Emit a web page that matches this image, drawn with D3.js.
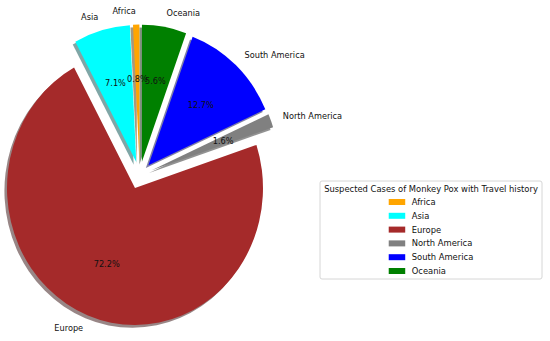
<!DOCTYPE html>
<html>
<head>
<meta charset="utf-8">
<script src="https://cdn.jsdelivr.net/npm/d3@7"></script>
<style>
  body { margin: 0; background: #fff; }
  svg { display: block; font-family: "DejaVu Sans", sans-serif; }
</style>
</head>
<body>
<svg id="chart" width="550" height="341"></svg>
<script>
// data
const regions = ['Africa', 'Asia', 'Europe', 'North America', 'South America', 'Oceania'];
const shares = [0.8, 7.1, 72.2, 1.6, 12.7, 5.6];
const colours = ['#ffa500', '#00ffff', '#a52a2a', '#808080', '#0000ff', '#008000'];
const legendTitle = 'Suspected Cases of Monkey Pox with Travel history';

const svg = d3.select('#chart');

// pie sits in data coords [-1,1]; picture is a bit taller than wide
const cx = 139.7, cy = 175.3, rx = 128, ry = 137;
const x = d3.scaleLinear().domain([-1, 1]).range([cx - rx, cx + rx]);
const y = d3.scaleLinear().domain([-1, 1]).range([cy + ry, cy - ry]);

const explode = 0.1;
const labelDist = 1.1;
const pctDist = 0.6;
const fs = 8.2;

// counterclockwise from 12 o'clock like matplotlib startangle=90
const pie = d3.pie().sort(null).startAngle(0).endAngle(-2 * Math.PI);
const arcs = pie(shares);
const arc = d3.arc().innerRadius(0).outerRadius(1);

const mid = d => (d.startAngle + d.endAngle) / 2;
// unit vector in data coords (y up)
const ux = d => Math.sin(mid(d));
const uy = d => Math.cos(mid(d));

const dx = x(-0.02) - x(0), dy = y(-0.02) - y(0);

// shadows first
svg.append('g').selectAll('path.shadow')
    .data(arcs)
    .join('path')
    .attr('class', 'shadow')
    .attr('d', arc)
    .attr('transform', d => `translate(${x(explode * ux(d)) + dx},${y(explode * uy(d)) + dy}) scale(${rx},${ry})`)
    .attr('fill', (d, i) => {
        const c = d3.rgb(colours[i]);
        return d3.rgb(c.r * .3, c.g * .3, c.b * .3);
    })
    .attr('opacity', 0.5);

svg.append('g').selectAll('path.wedge')
    .data(arcs)
    .join('path')
    .attr('class', 'wedge')
    .attr('d', arc)
    .attr('transform', d => `translate(${x(explode * ux(d))},${y(explode * uy(d))}) scale(${rx},${ry})`)
    .attr('fill', (d, i) => colours[i]);

// region labels
svg.append('g').selectAll('text')
    .data(arcs)
    .join('text')
    .attr('x', d => x((explode + labelDist) * ux(d)))
    .attr('y', d => y((explode + labelDist) * uy(d)))
    .attr('text-anchor', d => ux(d) > 0 ? 'start' : 'end')
    .attr('dominant-baseline', 'central')
    .attr('font-size', fs)
    .attr('fill', '#111')
    .text((d, i) => regions[i]);

// percentages
svg.append('g').selectAll('text')
    .data(arcs)
    .join('text')
    .attr('x', d => x((explode + pctDist) * ux(d)))
    .attr('y', d => y((explode + pctDist) * uy(d)))
    .attr('text-anchor', 'middle')
    .attr('dominant-baseline', 'central')
    .attr('font-size', fs)
    .attr('fill', '#111')
    .text(d => d3.format('.1f')(d.value) + '%');

// legend
const lg = svg.append('g');
const box = {x: 320, y: 181, w: 222, h: 98};
lg.append('rect')
    .attr('x', box.x).attr('y', box.y)
    .attr('width', box.w).attr('height', box.h)
    .attr('rx', 2)
    .attr('fill', '#fff')
    .attr('stroke', '#d6d6d6')
    .attr('stroke-width', 1);

lg.append('text')
    .attr('x', box.x + box.w / 2)
    .attr('y', 189)
    .attr('text-anchor', 'middle')
    .attr('dominant-baseline', 'central')
    .attr('font-size', 8.4)
    .attr('fill', '#111')
    .text(legendTitle);

const patchW = 16.5, patchH = 6, gap = 6.5, rowH = 13.8, row0 = 202;
const items = lg.append('g');
const rows = items.selectAll('g')
    .data(regions)
    .join('g')
    .attr('transform', (d, i) => `translate(0,${row0 + i * rowH})`);
rows.append('rect')
    .attr('width', patchW).attr('height', patchH)
    .attr('y', -patchH / 2)
    .attr('fill', (d, i) => colours[i]);
const labels = rows.append('text')
    .attr('x', patchW + gap)
    .attr('dominant-baseline', 'central')
    .attr('font-size', 8.4)
    .attr('fill', '#111')
    .text(d => d);

// centre the entry column under the title
let widest = 0;
labels.each(function(){ widest = Math.max(widest, this.getComputedTextLength()); });
const colW = patchW + gap + widest;
items.attr('transform', `translate(${box.x + box.w / 2 - colW / 2},0)`);
</script>
</body>
</html>
